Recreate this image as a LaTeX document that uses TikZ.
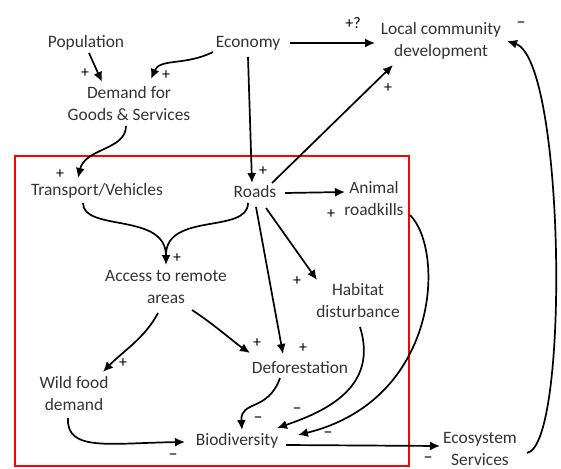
\documentclass[tikz,border=0pt]{standalone}
\usepackage{fontspec}
\setmainfont{Carlito}
\usetikzlibrary{arrows.meta,calc}
\definecolor{txt}{HTML}{333333}
\begin{document}
\begin{tikzpicture}[x=1pt,y=-1pt,
  lbl/.style={font=\fontsize{17.4}{22}\selectfont, text=txt, align=center, inner sep=0pt},
  sgn/.style={font=\fontsize{16}{16}\selectfont, text=black, inner sep=0pt},
  sgnm/.style={font=\fontsize{18}{18}\selectfont, text=black, inner sep=0pt},
  arr/.style={line width=1.7pt, -{Latex[length=10pt,width=9pt]}},
  ln/.style={line width=1.7pt}]
\useasboundingbox (0,0) rectangle (561,468);
\draw[red, line width=1.2pt] (15,156) rectangle (409,466);
% nodes
\node[lbl] (pop) at (86,43) {Population};
\node[lbl] (eco) at (248,43) {Economy};
\node[lbl] (loc) at (441,41) {Local community\\development};
\node[lbl] (dem) at (129,104) {Demand for\\Goods \& Services};
\node[lbl] (tra) at (97,191) {Transport/Vehicles};
\node[lbl] (roa) at (255,192) {Roads};
\node[lbl] (ani) at (374,199) {Animal\\roadkills};
\node[lbl] (acc) at (166,287) {Access to remote\\areas};
\node[lbl] (hab) at (358,301) {Habitat\\disturbance};
\node[lbl] (def) at (300,368) {Deforestation};
\node[lbl] (wil) at (74,394) {Wild food\\demand};
\node[lbl] (bio) at (237,441) {Biodiversity};
\node[lbl] (ecs) at (480,449) {Ecosystem\\Services};
% connectors
\draw[arr] ([shift={(3,10)}]pop.center) -- ([shift={(-27,-22)}]dem.center);
\draw[arr] ([shift={(-35,9)}]eco.center) .. controls (185,66) and (160,58) .. ([shift={(22,-25)}]dem.center);
\draw[arr] ([shift={(42,0)}]eco.center) -- ([shift={(-66,2)}]loc.center);
\draw[arr] ([shift={(0,14)}]eco.center) -- ([shift={(-3,-9)}]roa.center);
\draw[arr] ([shift={(-3,22)}]dem.center) .. controls (126,150) and (85,148) .. ([shift={(-19,-13)}]tra.center);
\draw[arr] ([shift={(17,-9)}]roa.center) -- ([shift={(-48,24)}]loc.center);
\draw[arr] ([shift={(30,1)}]roa.center) -- ([shift={(-29,-7)}]ani.center);
\draw[arr] ([shift={(-14,12)}]tra.center) .. controls (83,232) and (166,212) .. ([shift={(0,-22)}]acc.center);
\draw[ln] ([shift={(-7,11)}]roa.center) .. controls (248,234) and (166,212) .. ([shift={(0,-32)}]acc.center);
\draw[arr] ([shift={(11,16)}]roa.center) -- ([shift={(-41,-21)}]hab.center);
\draw[arr] ([shift={(1,15)}]roa.center) -- ([shift={(-17,-14)}]def.center);
\draw[arr] ([shift={(26,23)}]acc.center) .. controls (215,325) and (235,343) .. ([shift={(-50,-15)}]def.center);
\draw[arr] ([shift={(-8,26)}]acc.center) .. controls (145,338) and (122,352) .. ([shift={(29,-22)}]wil.center);
\draw[arr] ([shift={(-6,24)}]wil.center) .. controls (66,452) and (110,443) .. ([shift={(-52,1)}]bio.center);
\draw[arr] ([shift={(-20,10)}]def.center) .. controls (268,412) and (240,400) .. ([shift={(5,-11)}]bio.center);
\draw[arr] ([shift={(2,26)}]hab.center) .. controls (378,385) and (330,410) .. ([shift={(40,-13)}]bio.center);
\draw[arr] ([shift={(36,16)}]ani.center) .. controls (445,250) and (440,400) .. ([shift={(61,-6)}]bio.center);
\draw[arr] ([shift={(49,4)}]bio.center) -- ([shift={(-40,-3)}]ecs.center);
\draw[arr] ([shift={(47,4)}]ecs.center) .. controls (570,445) and (565,60) .. ([shift={(66,0)}]loc.center);
% signs
\node[sgn] (s1) at (85,73) {+};
\node[sgn] (s2) at (166,75) {+};
\node[sgn] (s3) at (353,23) {+?};
\node[sgn] (s4) at (388,88) {+};
\node[sgnm] (s5) at (521,25) {–};
\node[sgn] (s6) at (60,174) {+};
\node[sgn] (s7) at (263,171) {+};
\node[sgn] (s8) at (331,214) {+};
\node[sgn] (s9) at (177,258) {+};
\node[sgn] (s10) at (297,281) {+};
\node[sgn] (s11) at (123,363) {+};
\node[sgn] (s12) at (257,343) {+};
\node[sgn] (s13) at (303,348) {+};
\node[sgnm] (s14) at (258,420) {–};
\node[sgnm] (s15) at (297,411) {–};
\node[sgnm] (s16) at (328,435) {–};
\node[sgnm] (s17) at (173,457) {–};
\node[sgnm] (s18) at (428,460) {–};
\end{tikzpicture}
\end{document}
